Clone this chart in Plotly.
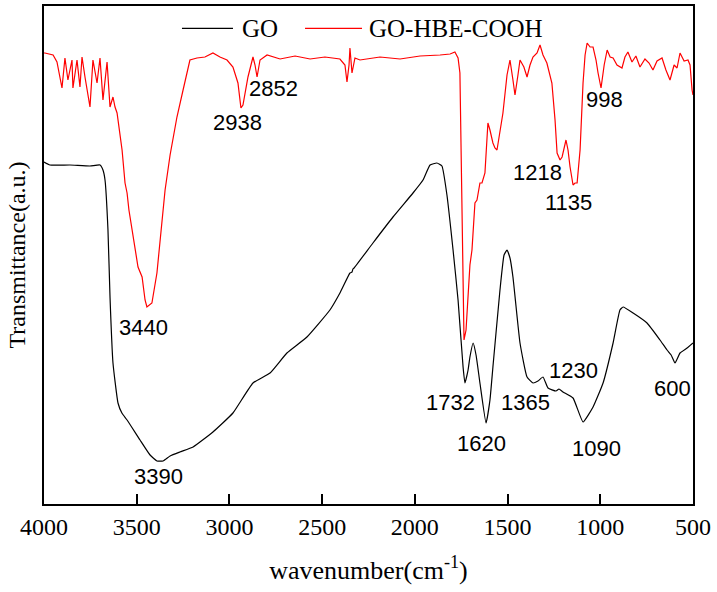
import plotly.graph_objects as go

# GO spectrum (wavenumber cm^-1, transmittance a.u.)
go_wn = [4000, 3968, 3860, 3752, 3698, 3682, 3671, 3655, 3644, 3628, 3601, 3580, 3552, 3482, 3428,
         3391, 3358, 3320, 3267, 3196, 3089, 2981, 2873, 2781, 2690, 2582, 2458, 2404, 2350, 2339,
         2334, 2328, 2226, 2118, 2010, 1956, 1918, 1881, 1854, 1827, 1794, 1767, 1740, 1730, 1713,
         1703, 1686, 1670, 1649, 1616, 1595, 1579, 1541, 1519, 1503, 1487, 1471, 1433, 1395, 1363,
         1336, 1309, 1282, 1239, 1223, 1201, 1147, 1093, 1039, 985, 931, 894, 877, 823, 748, 678,
         640, 618, 597, 570, 532, 500]
go_t = [343, 340, 340, 339, 340, 335, 325, 275, 208, 142, 102, 92, 85, 65, 50,
        44, 44, 49, 53, 58, 73, 92, 122, 132, 152, 168, 195, 212, 232, 233,
        236, 237, 262, 288, 312, 325, 340, 342, 339, 310, 255, 205, 138, 122, 135,
        148, 162, 150, 122, 82, 105, 138, 215, 250, 255, 247, 228, 162, 128, 122,
        124, 128, 117, 114, 116, 113, 107, 83, 98, 122, 162, 195, 198, 192, 182, 165,
        155, 150, 142, 152, 157, 162]

# GO-HBE-COOH spectrum
cooh_wn = [4000, 3995, 3951, 3930, 3903, 3887, 3871, 3849, 3844, 3822, 3806, 3795, 3779, 3752, 3736,
           3714, 3698, 3682, 3660, 3644, 3628, 3617, 3606, 3579, 3563, 3552, 3542, 3520, 3493, 3471,
           3455, 3445, 3428, 3418, 3391, 3347, 3320, 3283, 3250, 3213, 3175, 3132, 3089, 3051, 3013,
           2981, 2954, 2938, 2927, 2900, 2873, 2862, 2851, 2835, 2797, 2727, 2646, 2565, 2485, 2404,
           2377, 2366, 2355, 2350, 2339, 2323, 2296, 2188, 2080, 1972, 1864, 1810, 1784, 1767, 1757,
           1751, 1746, 1740, 1735, 1724, 1713, 1703, 1692, 1676, 1665, 1649, 1638, 1622, 1606, 1595,
           1579, 1568, 1557, 1541, 1525, 1503, 1487, 1471, 1460, 1444, 1433, 1412, 1395, 1379, 1363,
           1341, 1325, 1309, 1288, 1261, 1244, 1233, 1217, 1206, 1185, 1174, 1163, 1147, 1136, 1125,
           1109, 1093, 1082, 1071, 1055, 1039, 1023, 1012, 996, 979, 963, 947, 931, 910, 883,
           867, 851, 829, 808, 786, 759, 737, 716, 694, 667, 646, 624, 602, 586, 570,
           548, 527, 516, 505, 500]
cooh_t = [452, 452, 450, 443, 417, 447, 425, 445, 417, 445, 418, 448, 428, 398, 445,
          422, 447, 405, 443, 398, 408, 398, 392, 355, 322, 312, 295, 268, 238, 228,
          205, 198, 200, 202, 232, 315, 350, 388, 415, 445, 447, 448, 452, 448, 445,
          438, 422, 397, 400, 428, 448, 440, 428, 445, 450, 446, 449, 446, 448, 446,
          440, 423, 440, 457, 432, 447, 445, 448, 446, 449, 450, 451, 453, 447, 432,
          360, 298, 220, 165, 175, 212, 240, 255, 302, 305, 322, 322, 332, 382, 375,
          362, 357, 355, 372, 392, 430, 445, 425, 410, 430, 445, 438, 428, 440, 448,
          452, 460, 450, 442, 422, 385, 352, 345, 348, 365, 355, 338, 320, 322, 322,
          355, 422, 450, 462, 458, 458, 445, 432, 417, 440, 455, 448, 447, 440, 437,
          448, 453, 443, 449, 438, 446, 442, 435, 444, 447, 435, 425, 440, 437, 452,
          444, 445, 440, 415, 410]

# Peak labels: text, wavenumber, transmittance
peak_text = ["3440", "3390", "2938", "2852", "1732", "1620", "1365", "1230", "1090", "600",
             "1218", "1135", "998"]
peak_wn = [3466, 3380, 2959, 2765, 1810, 1638, 1406, 1147, 1018, 608, 1336, 1174, 975]
peak_t = [178, 29, 383, 417, 103, 62, 103, 135, 57, 117, 333, 303, 406]

x_ticks = [4000, 3500, 3000, 2500, 2000, 1500, 1000, 500]

series_names = ["GO", "GO-HBE-COOH"]
series_colors = ["black", "#ff0000"]

serif = "Liberation Serif, Times New Roman, serif"
sans = "Liberation Sans, Arial, sans-serif"

fig = go.Figure()
fig.add_trace(go.Scatter(x=go_wn, y=go_t, mode="lines", name=series_names[0],
                         line=dict(color=series_colors[0], width=1.2, shape="spline", smoothing=0.4)))
fig.add_trace(go.Scatter(x=cooh_wn, y=cooh_t, mode="lines", name=series_names[1],
                         line=dict(color=series_colors[1], width=1.2)))

for t, xw, yt in zip(peak_text, peak_wn, peak_t):
    fig.add_annotation(x=xw, y=yt, text=t, showarrow=False,
                       font=dict(family=sans, size=22, color="black"))

# Legend drawn inside the top of the frame (line sample + label)
leg_line_x0 = [0.2126, 0.4022]
leg_line_x1 = [0.2912, 0.4900]
leg_text_x = [0.302, 0.4977]
leg_y = 0.955
for name, col, x0, x1, tx in zip(series_names, series_colors, leg_line_x0, leg_line_x1, leg_text_x):
    fig.add_shape(type="line", xref="paper", yref="paper", x0=x0, x1=x1, y0=leg_y, y1=leg_y,
                  line=dict(color=col, width=1.3))
    fig.add_annotation(xref="paper", yref="paper", x=tx, y=leg_y, text=name, showarrow=False,
                       xanchor="left", yanchor="middle",
                       font=dict(family=serif, size=25, color="black"))

fig.update_layout(
    width=717, height=592,
    margin=dict(l=44, r=24, t=6, b=88),
    paper_bgcolor="white", plot_bgcolor="white",
    showlegend=False,
    font=dict(family=serif, color="black"),
)
fig.update_xaxes(range=[4000, 500], tickmode="array", tickvals=x_ticks,
                 ticktext=[str(v) for v in x_ticks],
                 ticks="inside", ticklen=10, tickwidth=2, tickcolor="black",
                 showline=True, linecolor="black", linewidth=2, mirror=True,
                 showgrid=False, zeroline=False,
                 tickfont=dict(family=serif, size=24, color="black"),
                 title=dict(text="wavenumber(cm<sup>-1</sup>)",
                            font=dict(family=serif, size=26, color="black"), standoff=22),
                 automargin=False)
fig.update_yaxes(range=[1, 499], showticklabels=False, ticks="",
                 showline=True, linecolor="black", linewidth=2, mirror=True,
                 showgrid=False, zeroline=False,
                 title=dict(text="Transmittance(a.u.)",
                            font=dict(family=serif, size=24, color="black"), standoff=10),
                 automargin=False)

fig.write_html("out.html", config={"displayModeBar": False},
               post_script="document.body.style.margin='0';document.body.style.padding='0';")
